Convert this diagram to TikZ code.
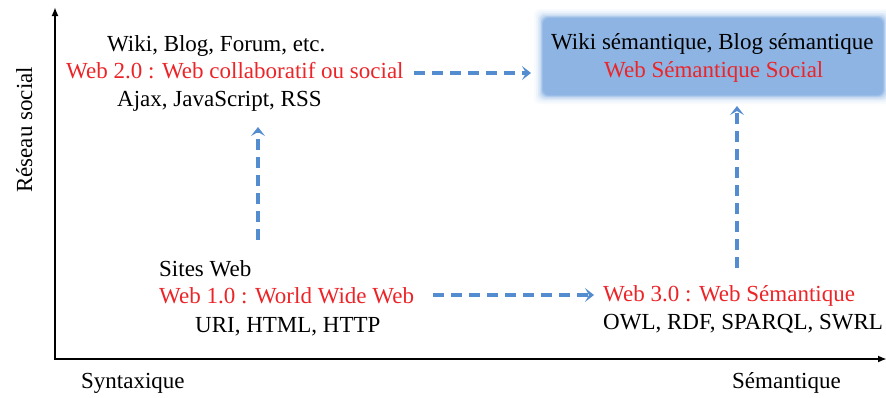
\documentclass[tikz,border=0pt]{standalone}
\usepackage{fontspec}
\setmainfont{Liberation Serif}
\usetikzlibrary{arrows.meta}
\definecolor{webred}{RGB}{236,36,40}
\definecolor{dashblue}{RGB}{84,140,208}
\definecolor{boxblue}{RGB}{141,180,227}
\begin{document}
\begin{tikzpicture}[x=1pt,y=-1pt,
  txt/.style={anchor=base west,inner sep=0pt,font=\fontsize{23}{27}\selectfont},
  redtxt/.style={txt,text=webred},
  axis/.style={line width=2.4pt,-{Latex[length=9pt,width=7pt]}},
  flow/.style={line width=3.3pt,dashblue,dash pattern=on 11pt off 7pt,
    -{Stealth[length=9pt,width=14pt,inset=4pt]}}]
\useasboundingbox (0,0) rectangle (886,397);
% axes
\coordinate (O) at (55,359);
\coordinate (Ytop) at (55,7);
\coordinate (Xend) at (887,359);
\draw[axis] (O) -- (Ytop);
\draw[axis] ([xshift=-1.2pt]O) -- (Xend);
\node[txt,rotate=90] (ylab) at (32,193) {Réseau social};
\node[txt] (xl) at (81,388) {Syntaxique};
\node[txt] (xr) at (732,388) {Sémantique};
% glowing box
\foreach \i/\op in {9/0.06,7/0.10,5/0.16,3.5/0.25,2/0.4,1/0.6,0/1}{
  \fill[boxblue,opacity=\op,rounded corners=6pt] (543-\i,18-\i) rectangle (883+\i,95+\i);
}
\node[txt] (w4a) at (551,49) {Wiki sémantique, Blog sémantique};
\node[redtxt] (w4b) at (604,77) {Web Sémantique Social};
% Web 2.0
\node[txt] (w2a) at (107,51) {Wiki, Blog, Forum, etc.};
\node[redtxt] (w2b) at (66,78) {Web 2.0 : Web collaboratif ou social};
\node[txt] (w2c) at (117,106) {Ajax, JavaScript, RSS};
% Web 1.0
\node[txt] (w1a) at (159,276) {Sites Web};
\node[redtxt] (w1b) at (159,303) {Web 1.0 : World Wide Web};
\node[txt] (w1c) at (195,332) {URI, HTML, HTTP};
% Web 3.0
\node[redtxt] (w3b) at (603,301) {Web 3.0 : Web Sémantique};
\node[txt] (w3c) at (603,329) {OWL, RDF, SPARQL, SWRL};
% connectors
\coordinate (a1s) at (258,240); \coordinate (a1e) at (258,127);
\coordinate (a2s) at (414,73);  \coordinate (a2e) at (531,73);
\coordinate (a3s) at (737,268); \coordinate (a3e) at (737,106);
\coordinate (a4s) at (433,295); \coordinate (a4e) at (594,295);
\draw[flow] (a1s) -- (a1e);
\draw[flow] (a2s) -- (a2e);
\draw[flow] (a3s) -- (a3e);
\draw[flow] (a4s) -- (a4e);
\end{tikzpicture}
\end{document}
